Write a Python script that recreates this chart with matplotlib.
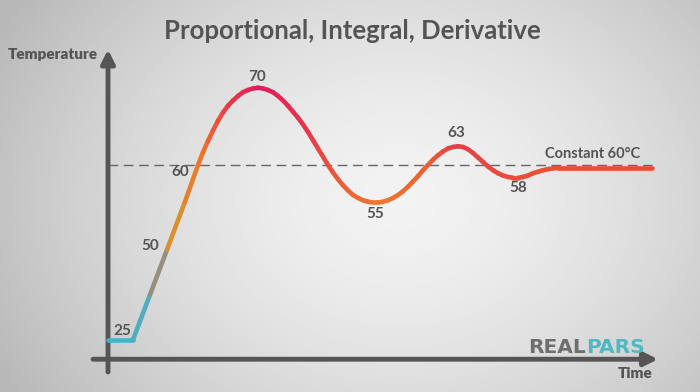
"""PID response curve sketch"""

import matplotlib.pyplot as plt
import numpy as np
from matplotlib.collections import LineCollection
from matplotlib.colors import LinearSegmentedColormap

# curve (time, temperature)
time = [0, 5, 8.4, 11.8, 15.4] + list(range(18, 91)) + [108.8]
temp = [36.7, 36.7, 42.7, 48.7, 55.1,
        # t = 18 .. 29
        60.0, 61.7, 63.2, 64.6, 65.9, 67.0, 67.9, 68.6, 69.2, 69.7, 70.0, 70.2,
        # t = 30 .. 41
        70.3, 70.2, 70.0, 69.7, 69.2, 68.6, 67.9, 67.1, 66.3, 65.4, 64.4, 63.3,
        # t = 42 .. 53
        62.2, 61.1, 60.0, 59.0, 58.1, 57.3, 56.6, 56.0, 55.6, 55.3, 55.1, 55.0,
        # t = 54 .. 65
        55.0, 55.1, 55.3, 55.6, 56.0, 56.5, 57.1, 57.8, 58.5, 59.3, 60.0, 60.7,
        # t = 66 .. 77
        61.3, 61.8, 62.2, 62.4, 62.5, 62.4, 62.1, 61.6, 61.0, 60.4, 59.8, 59.3,
        # t = 78 .. 90
        58.9, 58.6, 58.4, 58.3, 58.3, 58.4, 58.6, 58.9, 59.1, 59.3, 59.45,
        59.55, 59.6,
        59.6]

setpoint = 60
setpoint_label = 'Constant 60°C'

# value labels (text, time, temperature)
labels = ['25', '50', '60', '70', '55', '63', '58']
label_t = [2.8, 8.4, 14.4, 29.8, 53.4, 69.6, 82.0]
label_T = [37.9, 49.2, 59.1, 71.7, 53.5, 64.3, 56.9]

title = 'Proportional, Integral, Derivative'

TXT = '#545454'
AX = '#555555'


def main():
    fig = plt.figure(figsize=(7, 3.92), dpi=100)
    ax = fig.add_axes([0, 0, 1, 1])
    x0, x1 = -21.6, 118.4
    y0, y1 = 29.73, 82.0
    ax.set_xlim(x0, x1)
    ax.set_ylim(y0, y1)
    ax.axis('off')

    # radial grey background
    gx, gy = np.meshgrid(np.linspace(0, 700, 350), np.linspace(0, 392, 196))
    r = np.sqrt(((gx - 400) / 420) ** 2 + ((gy - 200) / 330) ** 2)
    bg = np.clip(0.95 - 0.2 * r ** 1.6, 0.72, 0.96)
    ax.imshow(bg, cmap='gray', vmin=0, vmax=1, extent=[x0, x1, y0, y1],
              origin='upper', aspect='auto', zorder=0)

    # axes with arrow heads
    ax.annotate('', xy=(0, 75.4), xytext=(0, 32.4),
                arrowprops=dict(arrowstyle='-|>', lw=3.5, color=AX,
                                mutation_scale=20, shrinkA=0, shrinkB=0),
                zorder=3)
    ax.annotate('', xy=(110.0, 34.1), xytext=(-3, 34.1),
                arrowprops=dict(arrowstyle='-|>', lw=3.5, color=AX,
                                mutation_scale=20, shrinkA=0, shrinkB=0),
                zorder=3)

    # setpoint line
    ax.plot([0, 108.8], [setpoint, setpoint], color='#666666', lw=1,
            dashes=(7, 4), zorder=2)
    ax.text(87.4, 60.5, setpoint_label, color=TXT, fontsize=10.5,
            family='Lato', fontweight='bold', ha='left', va='bottom')

    # gradient coloured response curve
    stops = [(0.0, '#3cb8cc'), (0.05, '#3cb8cc'), (0.085, '#8a8f8c'),
             (0.12, '#d69430'), (0.17, '#f07428'), (0.22, '#ea3c48'),
             (0.28, '#e01c5c'), (0.36, '#e6344c'), (0.44, '#ec6236'),
             (0.50, '#ee7a2c'), (0.58, '#ea6432'), (0.64, '#e4404a'),
             (0.72, '#e84a3e'), (0.80, '#ec5034'), (1.0, '#f04a22')]
    cmap = LinearSegmentedColormap.from_list('pid', stops)
    pts = np.column_stack([time, temp])
    segs = np.stack([pts[:-1], pts[1:]], axis=1)
    mid = (np.array(time[:-1]) + np.array(time[1:])) / 2 / 108.8
    lc = LineCollection(segs, colors=cmap(mid), linewidths=3.3,
                        capstyle='round', joinstyle='round', zorder=4)
    ax.add_collection(lc)

    for s, t, v in zip(labels, label_t, label_T):
        ax.text(t, v, s, color=TXT, fontsize=11, family='Lato',
                fontweight='bold', ha='center', va='center', zorder=5)

    ax.text(48.8, 77.9, title, color=TXT, fontsize=18.5, family='Lato',
            fontweight='bold', ha='center', va='center')
    ax.text(-2, 74.7, 'Temperature', color=TXT, fontsize=11,
            family='Lato', fontweight='heavy', ha='right', va='center')
    ax.text(105.4, 32.2, 'Time', color=TXT, fontsize=11, family='Lato',
            fontweight='heavy', ha='center', va='center')

    # logo
    real = ax.text(84.0, 35.6, 'REAL', color='#6e6e6e', fontsize=14.5,
                   fontweight='bold', ha='left', va='center', zorder=5)
    ax.annotate('PARS', xy=(1, 0.5), xycoords=real, color='#4fb8c2',
                fontsize=14.5, fontweight='bold', ha='left', va='center',
                zorder=5)

    fig.savefig('out.png', dpi=100)


if __name__ == "__main__":
    main()
